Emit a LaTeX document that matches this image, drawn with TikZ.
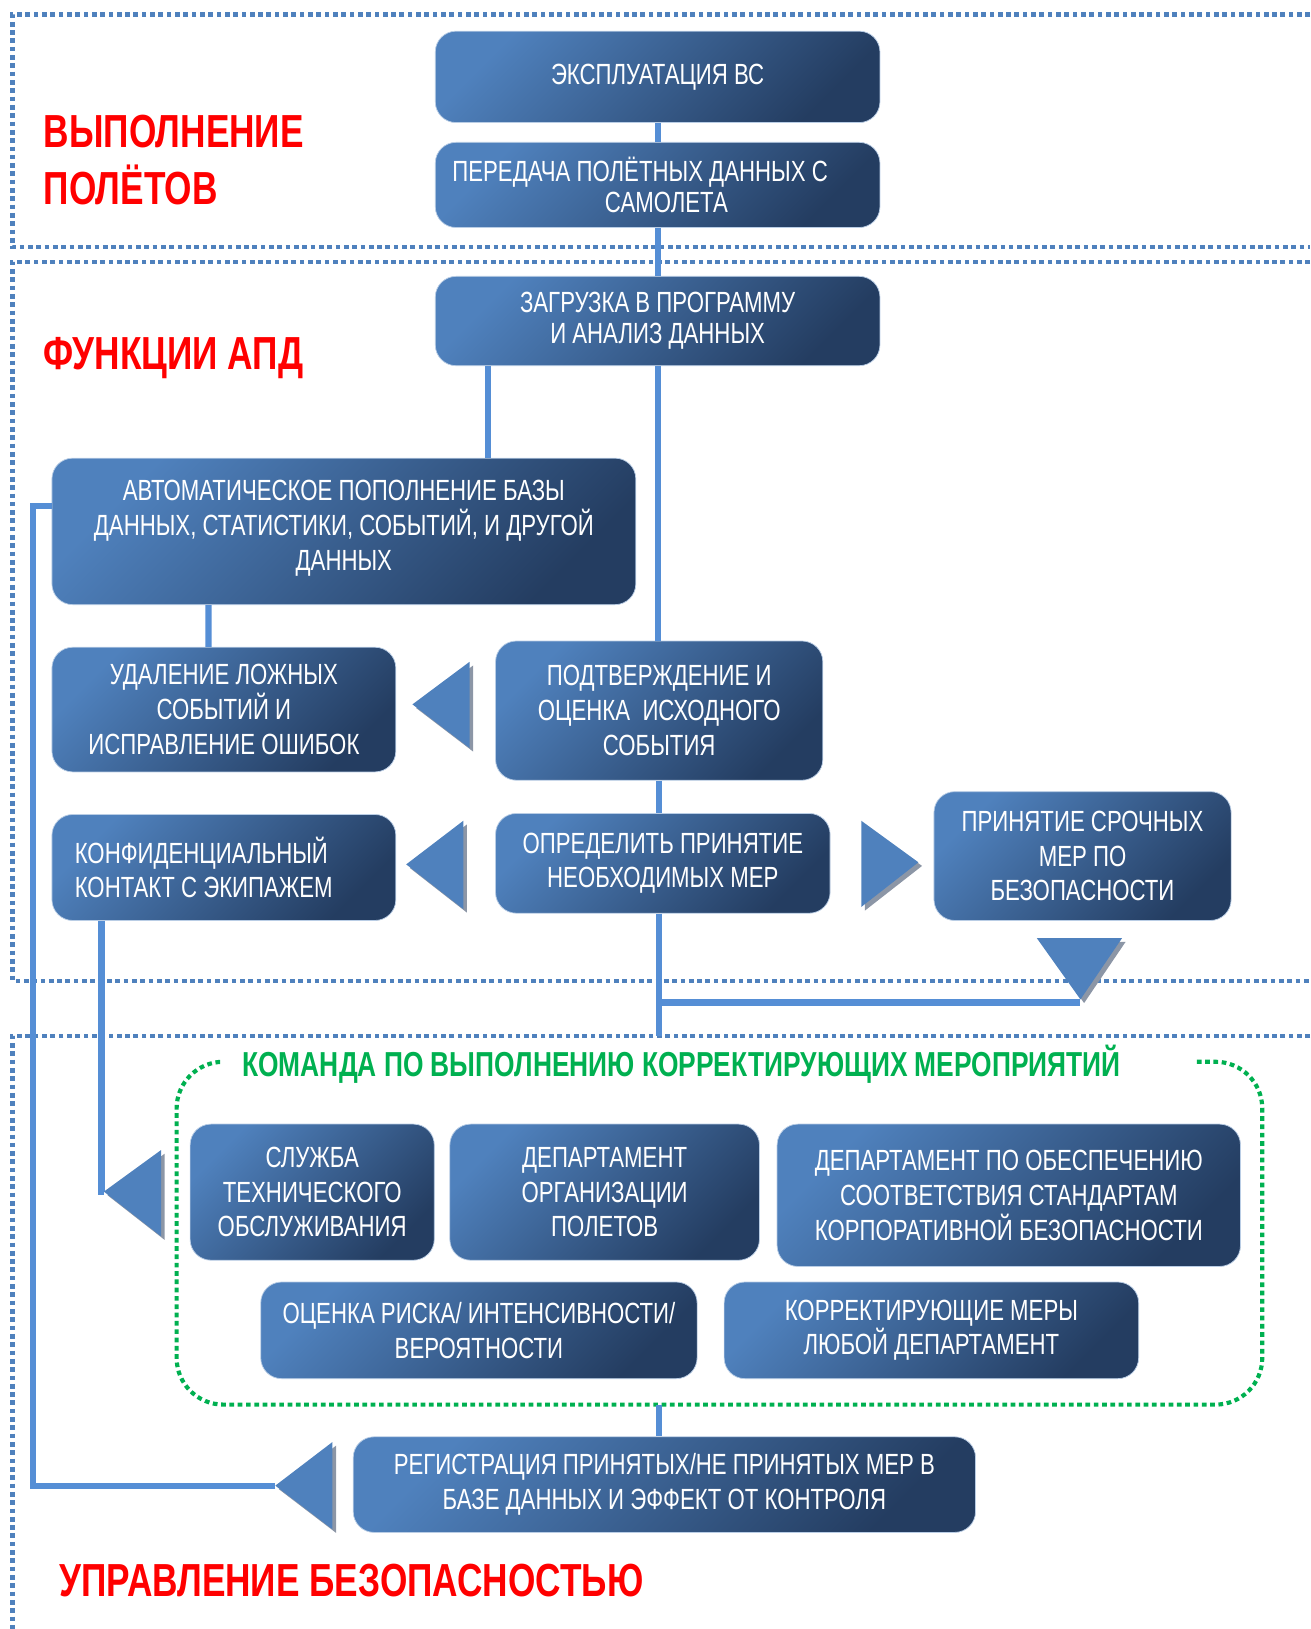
\documentclass[tikz,border=0pt]{standalone}
\usepackage{fontspec}
\newfontfamily\narrowsans{Liberation Sans}[FakeStretch=0.76]
\usetikzlibrary{shadows}
\definecolor{boxlight}{RGB}{79,129,189}
\definecolor{boxdark}{RGB}{36,61,97}
\definecolor{linkblue}{RGB}{85,142,213}
\definecolor{frameblue}{RGB}{79,129,189}
\definecolor{teamgreen}{RGB}{0,176,80}
\definecolor{shadowgray}{RGB}{140,150,166}

\begin{document}
\begin{tikzpicture}[x=0.2mm, y=-0.2mm,
    stage/.style={rectangle, rounded corners=4mm, draw=boxlight!40!white, line width=0.4pt, top color=boxlight, bottom color=boxdark, shading angle=45, text=white, align=center, inner sep=0pt, font=\narrowsans\fontsize{16}{19}\selectfont},
    link/.style={draw=linkblue, line width=1.2mm},
    tri/.style={fill=boxlight, drop shadow={shadow xshift=0.7mm, shadow yshift=-0.7mm, fill=shadowgray, opacity=1}},
    zoneline/.style={draw=frameblue, line width=0.8mm, dash pattern=on 0.9mm off 0.7mm},
    team/.style={draw=teamgreen, line width=0.8mm, dash pattern=on 0.9mm off 0.7mm},
    zone/.style={text=red, font=\narrowsans\bfseries\fontsize{25.4}{31}\selectfont, align=left, inner sep=0pt}
]
    \useasboundingbox (0,0) rectangle (1261,1568);

    % zones
    \draw[zoneline] (1261,14) -- (12,14) -- (12,238) -- (1261,238);
    \draw[zoneline] (1261,252) -- (12,252) -- (12,944) -- (1261,944);
    \draw[zoneline] (1261,997) -- (12,997) -- (12,1568);
    \node[zone, anchor=west] (zFlight) at (42,154) {ВЫПОЛНЕНИЕ\\ПОЛЁТОВ};
    \node[zone, anchor=west] (zApd) at (42,345) {ФУНКЦИИ АПД};
    \node[zone, anchor=west] (zSafety) at (57,1521) {УПРАВЛЕНИЕ БЕЗОПАСНОСТЬЮ};

    % corrective team
    \draw[team, rounded corners=9mm] (1152,1022) -- (1215,1022) -- (1215,1352) -- (170,1352) -- (170,1022) -- (215,1022);
    \node[text=teamgreen, font=\narrowsans\bfseries\fontsize{19}{22}\selectfont, inner sep=0pt] (teamTitle) at (656,1024) {КОМАНДА ПО ВЫПОЛНЕНИЮ КОРРЕКТИРУЮЩИХ МЕРОПРИЯТИЙ};
    \coordinate (teamBottom) at (634,1352);

    \node[stage, minimum width=85.6mm, minimum height=17.6mm] (expl) at (633,74) {ЭКСПЛУАТАЦИЯ ВС};
    \node[stage, minimum width=85.6mm, minimum height=16.4mm, font=\narrowsans\fontsize{16}{17.5}\selectfont] (transfer) at (633,178) {ПЕРЕДАЧА ПОЛЁТНЫХ ДАННЫХ С\hspace*{1.2em}\\\hspace*{0.6em}САМОЛЕТА};
    \node[stage, minimum width=85.6mm, minimum height=17.2mm, font=\narrowsans\fontsize{16}{17}\selectfont] (upload) at (633,309) {ЗАГРУЗКА В ПРОГРАММУ\\И АНАЛИЗ ДАННЫХ};
    \node[stage, minimum width=112.4mm, minimum height=28.2mm] (autofill) at (331,511.5) {АВТОМАТИЧЕСКОЕ ПОПОЛНЕНИЕ БАЗЫ\\ДАННЫХ, СТАТИСТИКИ, СОБЫТИЙ, И ДРУГОЙ\\ДАННЫХ\vspace{1.2mm}};
    \node[stage, minimum width=66.2mm, minimum height=24mm] (cleanup) at (215.5,683) {УДАЛЕНИЕ ЛОЖНЫХ\\СОБЫТИЙ И\\ИСПРАВЛЕНИЕ ОШИБОК};
    \node[stage, minimum width=63mm, minimum height=26.8mm] (confirm) at (634.5,684) {ПОДТВЕРЖДЕНИЕ И\\ОЦЕНКА\ \ ИСХОДНОГО\\СОБЫТИЯ};
    \node[stage, minimum width=66.2mm, minimum height=20.4mm, text width=57.4mm, align=flush left] (crew) at (215.5,835) {КОНФИДЕНЦИАЛЬНЫЙ\\КОНТАКТ С ЭКИПАЖЕМ};
    \node[stage, minimum width=64.4mm, minimum height=19.2mm] (decide) at (638,831) {ОПРЕДЕЛИТЬ ПРИНЯТИЕ\\НЕОБХОДИМЫХ МЕР};
    \node[stage, minimum width=57.2mm, minimum height=24.8mm] (urgent) at (1042,824) {ПРИНЯТИЕ СРОЧНЫХ\\МЕР ПО\\БЕЗОПАСНОСТИ};
    \node[stage, minimum width=47mm, minimum height=26.2mm] (maint) at (300.5,1147.5) {СЛУЖБА\\ТЕХНИЧЕСКОГО\\ОБСЛУЖИВАНИЯ};
    \node[stage, minimum width=59.6mm, minimum height=26.2mm] (flightops) at (582,1147.5) {ДЕПАРТАМЕНТ\\ОРГАНИЗАЦИИ\\ПОЛЕТОВ};
    \node[stage, minimum width=89.2mm, minimum height=27.4mm] (corpsafe) at (971,1150.5) {ДЕПАРТАМЕНТ ПО ОБЕСПЕЧЕНИЮ\\СООТВЕТСТВИЯ СТАНДАРТАМ\\КОРПОРАТИВНОЙ БЕЗОПАСНОСТИ};
    \node[stage, minimum width=84mm, minimum height=18.6mm] (risk) at (461,1280.5) {ОЦЕНКА РИСКА/ ИНТЕНСИВНОСТИ/\\ВЕРОЯТНОСТИ};
    \node[stage, minimum width=79.8mm, minimum height=18.6mm] (anydept) at (896.5,1280.5) {КОРРЕКТИРУЮЩИЕ МЕРЫ\\ЛЮБОЙ ДЕПАРТАМЕНТ};
    \node[stage, minimum width=119.8mm, minimum height=18.4mm] (record) at (639.5,1429) {РЕГИСТРАЦИЯ ПРИНЯТЫХ/НЕ ПРИНЯТЫХ МЕР В\\БАЗЕ ДАННЫХ И ЭФФЕКТ ОТ КОНТРОЛЯ};

    \coordinate (tipCrew) at (100,1147);
    \coordinate (tipRecord) at (265,1430);
    \coordinate (tipUrgent) at (1040,965);
    \coordinate (apdEnd) at (634,997);

    % links
    \draw[link] (expl) -- (transfer);
    \draw[link] (transfer) -- (upload);
    \draw[link] ([xshift=10.2mm]upload.south west) -- ([xshift=10.2mm]upload.south west |- autofill.north);
    \draw[link] (upload.south) -- (upload.south |- confirm.north);
    \draw[link] ([xshift=30.2mm]autofill.south west) -- ([xshift=30.2mm]cleanup.north west);
    \draw[link] (confirm.south -| apdEnd) -- (decide.north -| apdEnd);
    \draw[link] (decide.south -| apdEnd) -- (apdEnd);
    \draw[link] (apdEnd |- tipUrgent) -- (tipUrgent);
    \draw[link] ([xshift=9.6mm]crew.south west) |- (tipCrew);
    \draw[link] (teamBottom) -- (teamBottom |- record.north);
    \draw[link] (tipRecord) -| ([xshift=-3.6mm, yshift=4.9mm]autofill.west) -- ([yshift=4.9mm]autofill.west);

    % arrow heads
    \fill[tri] (397,678) -- (452,637) -- (452,720) -- cycle;
    \fill[tri] (391,832) -- (446,790) -- (446,875) -- cycle;
    \fill[tri] (884,830) -- (829,790) -- (829,873) -- cycle;
    \fill[tri] (998,903) -- (1080,903) -- (1040,962) -- cycle;
    \fill[tri] (tipCrew) -- (155,1107) -- (155,1190) -- cycle;
    \fill[tri] (tipRecord) -- (320,1388) -- (320,1472) -- cycle;
\end{tikzpicture}
\end{document}
